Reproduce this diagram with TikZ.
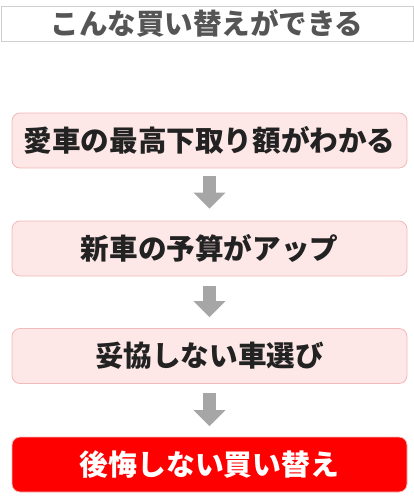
\documentclass[tikz,border=0pt]{standalone}
\usepackage{fontspec}
\newfontfamily\jp{Noto Sans CJK JP}
\usetikzlibrary{arrows.meta}
\definecolor{titlegray}{HTML}{555555}
\definecolor{framegray}{HTML}{CFCFCF}
\definecolor{pinkfill}{HTML}{FDE7E7}
\definecolor{pinkline}{HTML}{F2B9B9}
\definecolor{stepred}{HTML}{FF0000}
\definecolor{arrowgray}{HTML}{A6A6A6}
\definecolor{textdark}{HTML}{222222}
\tikzset{
  stepbox/.style={draw=pinkline, fill=pinkfill, line width=0.8pt, rounded corners=8pt,
    minimum width=395pt, minimum height=55pt, inner sep=0pt, text=textdark,
    font=\jp\bfseries\fontsize{28.6pt}{28.6pt}\selectfont},
  finalbox/.style={stepbox, fill=stepred, draw=pinkline, text=white,
    font=\jp\bfseries\fontsize{28.8pt}{28.8pt}\selectfont},
  titlebox/.style={draw=framegray, fill=white, line width=0.8pt,
    minimum width=412pt, minimum height=35pt, inner sep=0pt, text=titlegray,
    font=\jp\bfseries\fontsize{28.5pt}{28.5pt}\selectfont},
  flowarrow/.style={draw=arrowgray, line width=13pt, line cap=butt,
    -{Triangle[width=31pt,length=16pt,fill=arrowgray]}}
}
\begin{document}
\begin{tikzpicture}[x=1pt,y=-1pt]
\useasboundingbox (0,0) rectangle (414,500);
\draw[framegray!80!black!60, line width=1.2pt] (1,41.8) -- (413,41.8);
\node[titlebox] (title) at (207,23.5) {こんな買い替えができる};
\node[stepbox] (b1) at (209.5,140.5) {愛車の最高下取り額がわかる};
\node[stepbox] (b2) at (209.5,248.5) {新車の予算がアップ};
\node[stepbox] (b3) at (209.5,356) {妥協しない車選び};
\node[finalbox] (b4) at (209.5,464.5) {後悔しない買い替え};
\draw[flowarrow] ([yshift=-8pt]b1.south) -- ([yshift=12pt]b2.north);
\draw[flowarrow] ([yshift=-10pt]b2.south) -- ([yshift=11pt]b3.north);
\draw[flowarrow] ([yshift=-9pt]b3.south) -- ([yshift=10.5pt]b4.north);
\end{tikzpicture}
\end{document}
